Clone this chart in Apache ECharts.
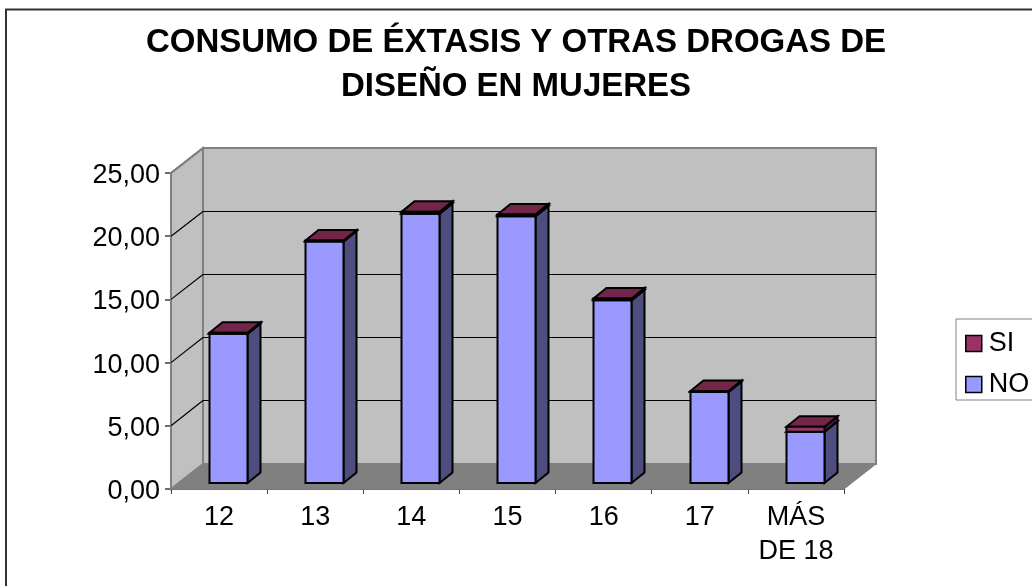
<!DOCTYPE html>
<html>
<head>
<meta charset="utf-8">
<style>html,body{margin:0;padding:0;background:#fff}#c{width:1032px;height:586px}</style>
<script src="https://cdn.jsdelivr.net/npm/echarts@6/dist/echarts.min.js"></script>
</head>
<body>
<div id="c"></div>
<script>
var categories = ['12','13','14','15','16','17','MÁS\nDE 18'];
var seriesNO = [11.80,19.10,21.30,21.10,14.45,7.20,4.05];
var seriesSI = [0.08,0.08,0.15,0.15,0.15,0.08,0.40];
var yTicks = [0,5,10,15,20,25];
var titleText = 'CONSUMO DE ÉXTASIS Y OTRAS DROGAS DE\nDISEÑO EN MUJERES';

var FONT = '"Liberation Sans", Arial, sans-serif';
var WALL_DX = 32, WALL_DY = -25;     // chart depth
var BAR_DX = 9.5, BAR_DY = -6;       // bar placement inside the depth
var DEPTH_DX = 13, DEPTH_DY = -10.5; // bar depth
var BAR_RATIO = 0.4;

var chart = echarts.init(document.getElementById('c'), null, {renderer:'canvas'});

function poly(points, fill, stroke, width) {
  return {type:'polygon', shape:{points:points}, style:{fill:fill, stroke:stroke||null, lineWidth:width||0, lineJoin:'miter'}};
}
function line(x1,y1,x2,y2,stroke,width) {
  return {type:'line', shape:{x1:x1,y1:y1,x2:x2,y2:y2}, style:{stroke:stroke, lineWidth:width}};
}
function renderWalls(params, api) {
  var g = params.coordSys, l = g.x, r = g.x+g.width, t = g.y, b = g.y+g.height;
  var dx = WALL_DX, dy = WALL_DY;
  return {type:'group', children:[
    poly([[l+dx,t+dy],[r+dx,t+dy],[r+dx,b+dy],[l+dx,b+dy]], '#C0C0C0', '#808080', 2),
    poly([[l,t],[l+dx,t+dy],[l+dx,b+dy],[l,b]], '#C0C0C0', '#808080', 2),
    poly([[l,b],[l+dx,b+dy],[r+dx,b+dy],[r,b]], '#808080', '#808080', 1)
  ]};
}
function renderGrid(params, api) {
  var v = api.value(1);
  var g = params.coordSys, l = g.x, r = g.x+g.width;
  var y = api.coord([0, v])[1];
  if (v === 0 || v === 25) {
    return {type:'group', children:[ line(l,y,l+WALL_DX,y+WALL_DY,'#808080', v === 25 ? 2 : 1) ]};
  }
  var by = Math.floor(y+WALL_DY)+0.5;
  return {type:'group', children:[
    line(l,y,l+WALL_DX,by,'#000',1.2),
    line(l+WALL_DX,by,r+WALL_DX,by,'#000',1.2)
  ]};
}
function barRenderer(front, top, side) {
  return function(params, api) {
    var i = api.value(0);
    var p0 = api.coord([i, api.value(1)]);
    var p1 = api.coord([i, api.value(2)]);
    var w = api.size([1,0])[0]*BAR_RATIO;
    var x0 = Math.floor(p0[0]+BAR_DX-w/2)+0.5, x1 = x0+Math.floor(w);
    var yb = p0[1]+BAR_DY, yt = p1[1]+BAR_DY;
    var dx = DEPTH_DX, dy = DEPTH_DY;
    return {type:'group', children:[
      poly([[x1,yb],[x1+dx,yb+dy],[x1+dx,yt+dy],[x1,yt]], side, '#000', 2),
      poly([[x0,yt],[x1,yt],[x1+dx,yt+dy],[x0+dx,yt+dy]], top, '#000', 2),
      poly([[x0,yb],[x1,yb],[x1,yt],[x0,yt]], front, '#000', 2)
    ]};
  };
}
var noData = seriesNO.map(function(v,i){ return [i,0,v]; });
var siData = seriesSI.map(function(v,i){ return [i,seriesNO[i],seriesNO[i]+v]; });

chart.setOption({
  animation:false,
  backgroundColor:'#fff',
  textStyle:{fontFamily:FONT},
  title:{
    text:titleText, left:516, top:21, padding:0, textAlign:'center',
    textStyle:{fontFamily:FONT, fontWeight:'bold', fontSize:33, lineHeight:44, color:'#000', align:'center'}
  },
  grid:{left:171, top:173, width:673, height:316, containLabel:false},
  legend:{
    left:956, top:319, orient:'vertical', data:['SI','NO'], selectedMode:false,
    icon:'rect', itemWidth:16, itemHeight:16, itemGap:14,
    padding:[11,40,2,9], backgroundColor:'#fff', borderColor:'#808080', borderWidth:1, borderRadius:0,
    textStyle:{fontFamily:FONT, fontSize:27, color:'#000', padding:[0,0,0,2]},
    itemStyle:{borderColor:'#000', borderWidth:1.5}
  },
  xAxis:{
    type:'category', data:categories,
    axisLine:{show:true, onZero:false, lineStyle:{color:'#404040', width:1.5}},
    axisTick:{show:true, alignWithLabel:false, length:5, lineStyle:{color:'#404040', width:1}},
    axisLabel:{interval:0, margin:12, fontFamily:FONT, fontSize:27, lineHeight:34, color:'#000'},
    splitLine:{show:false}
  },
  yAxis:{
    type:'value', min:0, max:25, interval:5,
    axisLine:{show:true, lineStyle:{color:'#404040', width:2}},
    axisTick:{show:true, length:6, lineStyle:{color:'#404040', width:1.5}},
    axisLabel:{margin:11, fontFamily:FONT, fontSize:27, color:'#000', verticalAlign:'top', lineHeight:5,
      formatter:function(v){ return v.toFixed(2).replace('.',','); }},
    splitLine:{show:false}
  },
  graphic:[{type:'rect', z:-10, silent:true, shape:{x:6,y:9.5,width:1200,height:800},
    style:{fill:null, stroke:'#333', lineWidth:2}}],
  series:[
    {type:'custom', name:'paredes', z:1, silent:true, clip:false, renderItem:renderWalls, data:[[0,0]], encode:{x:0,y:1}},
    {type:'custom', name:'rejilla', z:2, silent:true, clip:false, renderItem:renderGrid, data:yTicks.map(function(v){return [0,v];}), encode:{x:0,y:1}},
    {type:'custom', name:'NO', z:3, clip:false, renderItem:barRenderer('#9999FF','#7373BF','#4D4D80'),
      itemStyle:{color:'#9999FF'}, data:noData, encode:{x:0,y:[1,2]}},
    {type:'custom', name:'SI', z:4, clip:false, renderItem:barRenderer('#993366','#732649','#4D1A33'),
      itemStyle:{color:'#993366'}, data:siData, encode:{x:0,y:[1,2]}}
  ]
});
</script>
</body>
</html>
